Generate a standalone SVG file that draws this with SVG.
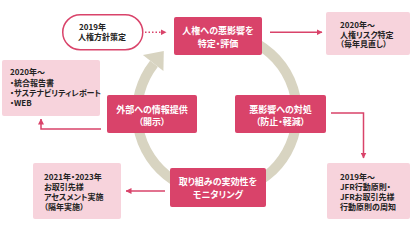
<svg xmlns="http://www.w3.org/2000/svg" width="410" height="230" viewBox="0 0 410 230">
<style>
.main{fill:#d9436a;}
.note{fill:#f7d3dc;}
.wt{fill:#ffffff;font-family:"Noto Sans CJK JP","Noto Sans",sans-serif;font-size:9px;font-weight:bold;text-anchor:middle;font-feature-settings:"palt";}
.dk{fill:#222222;font-family:"Noto Sans CJK JP","Noto Sans",sans-serif;font-size:8px;font-weight:bold;font-feature-settings:"palt";}
.ln{fill:none;stroke:#d9436a;stroke-width:1.5;}
.ring{fill:none;stroke:#d8d4c1;stroke-width:10;}
</style>
<defs>
<marker id="ah" viewBox="0 0 6 6" refX="5.5" refY="3" markerWidth="6" markerHeight="6" markerUnits="userSpaceOnUse" orient="auto">
<path d="M0,0 L6,3 L0,6 Z" fill="#d9436a"/>
</marker>
</defs>
<rect width="410" height="230" fill="#ffffff"/>
<g id="cycle">
<path class="ring" d="M250.8,40.5 A80,80 0 1 1 153.96,63.75"/>
<polygon points="142.9,55.1 163.8,51.1 163.4,71.1" fill="#d8d4c1"/>
</g>
<g id="connectors">
<line class="ln" x1="145" y1="32.3" x2="166" y2="32.3" stroke-dasharray="1.5,2" marker-end="url(#ah)"/>
<line class="ln" x1="270" y1="32.3" x2="322" y2="32.3" marker-end="url(#ah)"/>
<polyline class="ln" points="331,113 363.5,113 363.5,158" marker-end="url(#ah)"/>
<polyline class="ln" points="101,129 41,129 41,119" marker-end="url(#ah)"/>
<line class="ln" x1="165" y1="191" x2="126" y2="191" marker-end="url(#ah)"/>
</g>
<g id="policy">
<rect x="62.75" y="14.75" width="80" height="35" rx="17.5" fill="#ffffff" stroke="#d9436a" stroke-width="1.5"/>
<text class="dk" x="79" y="29.5">2019年</text>
<text class="dk" x="78" y="39.5">人権方針策定</text>
</g>
<g id="identify">
<rect class="main" x="174" y="17" width="88" height="38" rx="2"/>
<text class="wt" x="218" y="34">人権への悪影響を</text>
<text class="wt" x="218" y="46.5">特定・評価</text>
</g>
<g id="risk-note">
<rect class="note" x="326" y="12" width="84" height="43" rx="2"/>
<text class="dk" x="340" y="27.5">2020年～</text>
<text class="dk" x="340" y="37.5">人権リスク特定</text>
<text class="dk" x="340" y="47">（毎年見直し）</text>
</g>
<g id="address">
<rect class="main" x="235" y="95" width="91" height="38" rx="2"/>
<text class="wt" x="280.5" y="112.5">悪影響への対処</text>
<text class="wt" x="280.5" y="125">（防止・軽減）</text>
</g>
<g id="jfr-note">
<rect class="note" x="327" y="163" width="83" height="56" rx="2"/>
<text class="dk" x="340" y="179.5">2019年～</text>
<text class="dk" x="340" y="189.5">JFR行動原則・</text>
<text class="dk" x="340" y="199.5">JFRお取引先様</text>
<text class="dk" x="340" y="209.5">行動原則の周知</text>
</g>
<g id="monitor">
<rect class="main" x="170" y="168" width="96" height="39" rx="2"/>
<text class="wt" x="218" y="185">取り組みの実効性を</text>
<text class="wt" x="218" y="197.5">モニタリング</text>
</g>
<g id="assess-note">
<rect class="note" x="33" y="163" width="88" height="56" rx="2"/>
<text class="dk" x="44" y="179.5">2021年・2023年</text>
<text class="dk" x="44" y="189.5">お取引先様</text>
<text class="dk" x="44" y="199.5">アセスメント実施</text>
<text class="dk" x="44" y="209.5">（隔年実施）</text>
</g>
<g id="disclose">
<rect class="main" x="107" y="95" width="90" height="38" rx="2"/>
<text class="wt" x="152" y="112.5">外部への情報提供</text>
<text class="wt" x="152" y="125">（開示）</text>
</g>
<g id="report-note">
<rect class="note" x="2" y="60" width="98" height="56" rx="2"/>
<text class="dk" x="10" y="75">2020年～</text>
<text class="dk" x="10" y="85.5">・統合報告書</text>
<text class="dk" x="10" y="95.5">・サステナビリティレポート</text>
<text class="dk" x="10" y="105.5">・WEB</text>
</g>
</svg>
